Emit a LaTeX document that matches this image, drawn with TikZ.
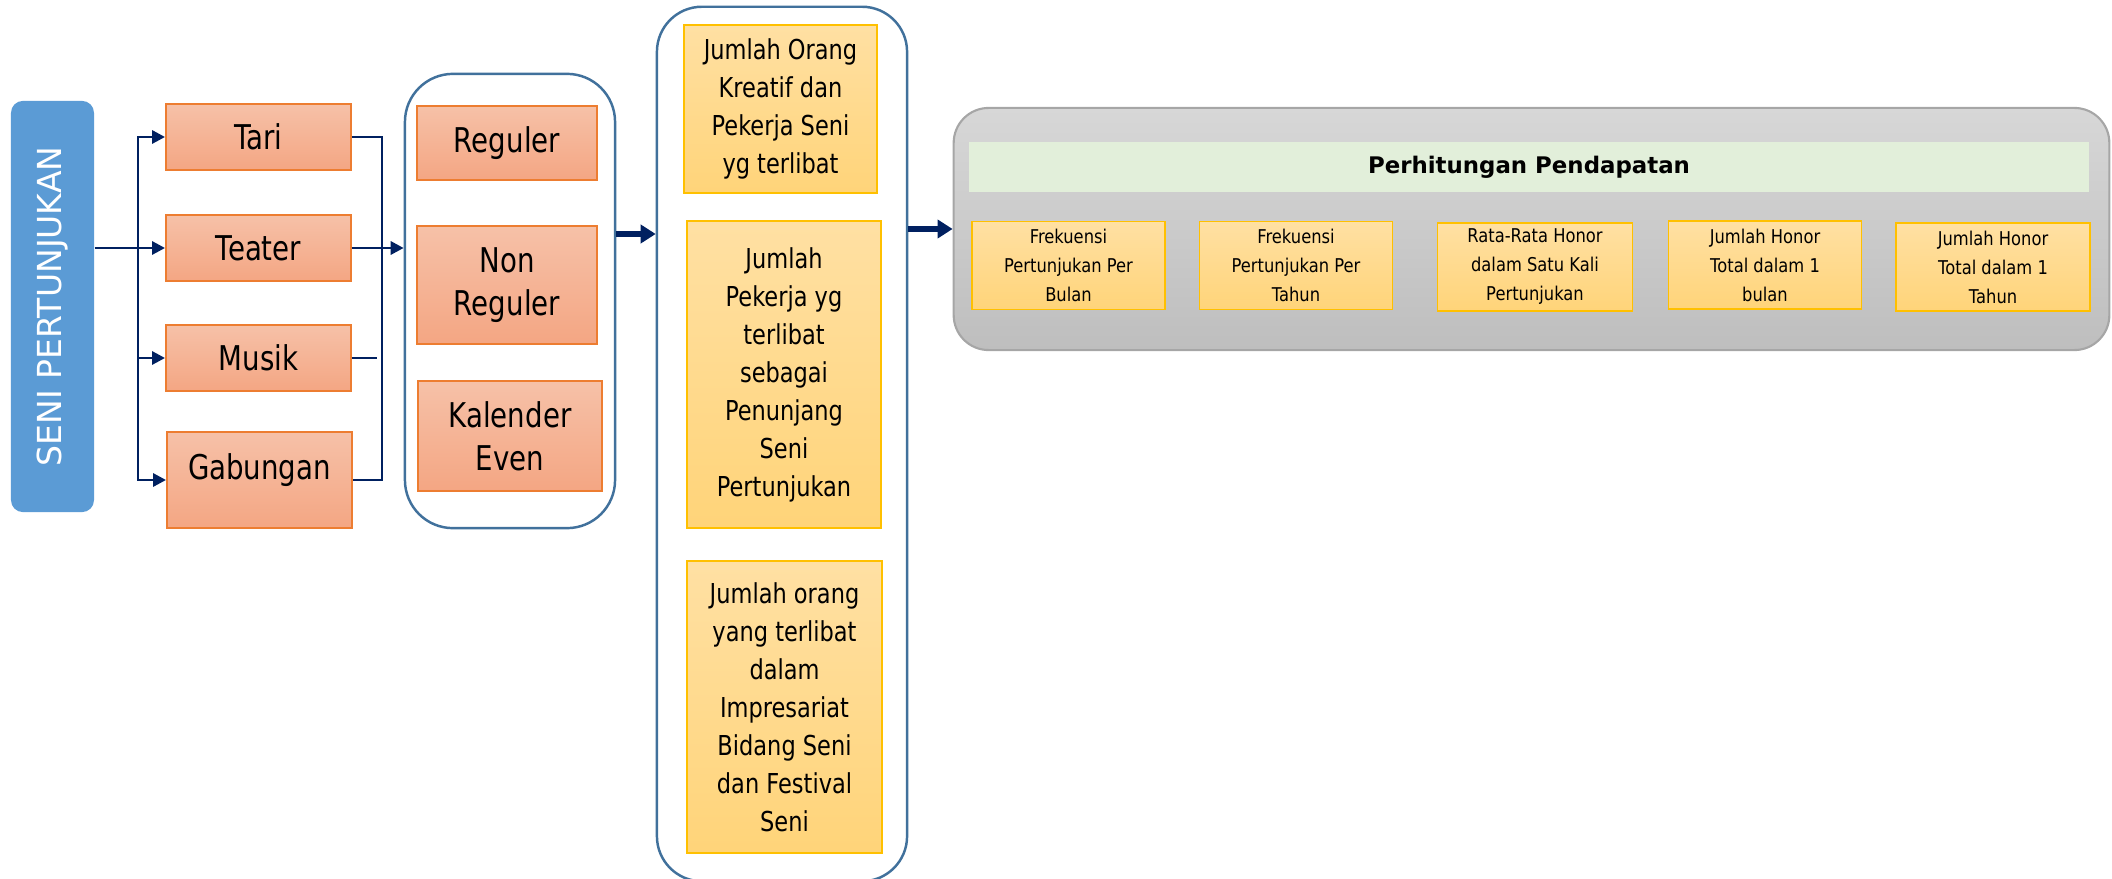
\documentclass[tikz,border=0pt]{standalone}
\usepackage{fontspec}
\setmainfont{DejaVu Sans}
\newfontfamily\jinggafont{DejaVu Sans}[FakeStretch=0.81]
\newfontfamily\tengahfont{DejaVu Sans}[FakeStretch=0.82]
\newfontfamily\kecilfont{DejaVu Sans}[FakeStretch=0.86]
\usepackage{xcolor}
\usetikzlibrary{arrows.meta, positioning}

\definecolor{senibiru}{HTML}{5B9BD5}
\definecolor{navy}{HTML}{002060}
\definecolor{wadahrand}{HTML}{41719C}
\definecolor{jinggaatas}{HTML}{F6C1A8}
\definecolor{jinggabawah}{HTML}{F4A683}
\definecolor{jinggarand}{HTML}{ED7D31}
\definecolor{kuningatas}{HTML}{FFE0A3}
\definecolor{kuningbawah}{HTML}{FFD479}
\definecolor{kuningrand}{HTML}{FFC000}
\definecolor{abuatas}{HTML}{D7D7D7}
\definecolor{abubawah}{HTML}{BEBEBE}
\definecolor{aburand}{HTML}{A6A6A6}
\definecolor{judulhijau}{HTML}{E2EFDA}

\tikzset{
	garis/.style={draw=navy, line width=0.85pt},
	panah/.style={garis, -{Triangle[length=1.3mm, width=1.3mm]}},
	panahtebal/.style={draw=navy, line width=1.7pt,
		-{Triangle[length=1.5mm, width=1.8mm]}},
	wadah/.style={draw=wadahrand, line width=0.7pt, fill=white, inner sep=0pt},
	kotakjingga/.style={draw=jinggarand, line width=0.5pt,
		top color=jinggaatas, bottom color=jinggabawah, inner sep=0pt,
		align=center, font=\jinggafont\fontsize{9.7}{12.2}\selectfont},
	kotakkuning/.style={draw=kuningrand, line width=0.5pt,
		top color=kuningatas, bottom color=kuningbawah, inner sep=0pt,
		align=center},
	isipelaku/.style={kotakkuning,
		font=\tengahfont\fontsize{7.8}{10.8}\selectfont},
	isihitung/.style={kotakkuning, minimum height=0.88cm,
		font=\kecilfont\fontsize{5.4}{8.25}\selectfont}
}

\begin{document}
\begin{tikzpicture}[x=0.01cm, y=-0.01cm]
	\useasboundingbox (0,0) rectangle (2112,879);
	% Seni Pertunjukan
	\node[
		fill=senibiru,
		rounded corners=0.12cm,
		rotate=90,
		minimum width=4.11cm,
		minimum height=0.83cm,
		text=white,
		font=\fontsize{9.4}{11}\selectfont
	] (seni) at (52.5,306.5) {SENI PERTUNJUKAN};
	% Wadah jenis (kiri)
	\node[
		wadah,
		rounded corners=0.48cm,
		minimum width=2.1cm,
		minimum height=4.54cm
	] (jenis) at (510,301) {};
	% Wadah pelaku (tengah)
	\node[
		wadah,
		rounded corners=0.45cm,
		minimum width=2.5cm,
		minimum height=8.74cm
	] (pelaku) at (782,444) {};
	% Wadah perhitungan (kanan)
	\node[
		draw=aburand,
		line width=0.6pt,
		top color=abuatas,
		bottom color=abubawah,
		rounded corners=0.35cm,
		minimum width=11.55cm,
		minimum height=2.42cm
	] (hitung) at (1531.5,229) {};

	% Cabang seni
	\node[kotakjingga, minimum width=1.85cm, minimum height=0.66cm] (tari) at (258.5,137) {Tari};
	\node[kotakjingga, minimum width=1.85cm, minimum height=0.66cm] (teater) at (258.5,248) {Teater};
	\node[kotakjingga, minimum width=1.85cm, minimum height=0.66cm] (musik) at (258.5,358) {Musik};
	\node[kotakjingga, minimum width=1.85cm, minimum height=0.96cm] (gabungan) at (259.5,480) {\raisebox{7.4pt}{Gabungan}};

	% Jenis pertunjukan
	\node[kotakjingga, minimum width=1.8cm, minimum height=0.74cm] (reguler) at (507,143) {Reguler};
	\node[kotakjingga, minimum width=1.8cm, minimum height=1.18cm] (nonreguler) at (507,285) {Non\\Reguler};
	\node[kotakjingga, minimum width=1.84cm, minimum height=1.1cm] (kalender) at (510,436) {Kalender\\Even};

	% Pelaku
	\node[isipelaku, minimum width=1.93cm, minimum height=1.68cm] (kreatif) at (780.5,109)
		{Jumlah Orang\\Kreatif dan\\Pekerja Seni\\yg terlibat};
	\node[isipelaku, minimum width=1.94cm, minimum height=3.07cm] (penunjang) at (784,374.5)
		{Jumlah\\Pekerja yg\\terlibat\\sebagai\\Penunjang\\Seni\\Pertunjukan};
	\node[isipelaku, minimum width=1.95cm, minimum height=2.92cm] (impresariat) at (784.5,707)
		{Jumlah orang\\yang terlibat\\dalam\\Impresariat\\Bidang Seni\\dan Festival\\Seni};

	% Perhitungan Pendapatan
	\node[
		fill=judulhijau,
		minimum width=11.2cm,
		minimum height=0.5cm,
		inner sep=0pt,
		font=\bfseries\fontsize{6.5}{8}\selectfont
	] (judul) at (1529,167) {Perhitungan Pendapatan};
	\node[isihitung, minimum width=1.93cm] (frekbulan) at (1068.5,265.5) {Frekuensi\\Pertunjukan Per\\Bulan};
	\node[isihitung, minimum width=1.93cm] (frektahun) at (1296,265.5) {Frekuensi\\Pertunjukan Per\\Tahun};
	\node[isihitung, minimum width=1.95cm] (honor) at (1535,267) {Rata-Rata Honor\\dalam Satu Kali\\Pertunjukan};
	\node[isihitung, minimum width=1.93cm] (totalbulan) at (1765,265) {Jumlah Honor\\Total dalam 1\\bulan};
	\node[isihitung, minimum width=1.94cm] (totaltahun) at (1993,267) {Jumlah Honor\\Total dalam 1\\Tahun};

	% Panah seni -> cabang (seni.south = kanan, node diputar)
	\coordinate (cabang) at (138,246);
	\draw[panah] (seni.south |- teater.west) -- (teater.west);
	\draw[panah] (cabang) |- (tari.west);
	\draw[panah] (cabang) |- (gabungan.west);
	\draw[panah] (cabang |- musik.west) -- (musik.west);
	% Cabang -> jenis
	\coordinate (gabung) at (382,252);
	\coordinate (ujungmusik) at (377,358);
	\draw[garis] (tari.east) -| (gabung) |- (gabungan.east);
	\draw[panah] (teater.east) -- (teater.east -| jenis.west);
	\draw[garis] (musik.east) -- (ujungmusik);
	% Panah besar
	\coordinate (tinggi) at (0,234);
	\draw[panahtebal] (jenis.east |- tinggi) -- (pelaku.west |- tinggi);
	\draw[panahtebal] (pelaku.east |- hitung.west) -- (hitung.west);
\end{tikzpicture}
\end{document}
